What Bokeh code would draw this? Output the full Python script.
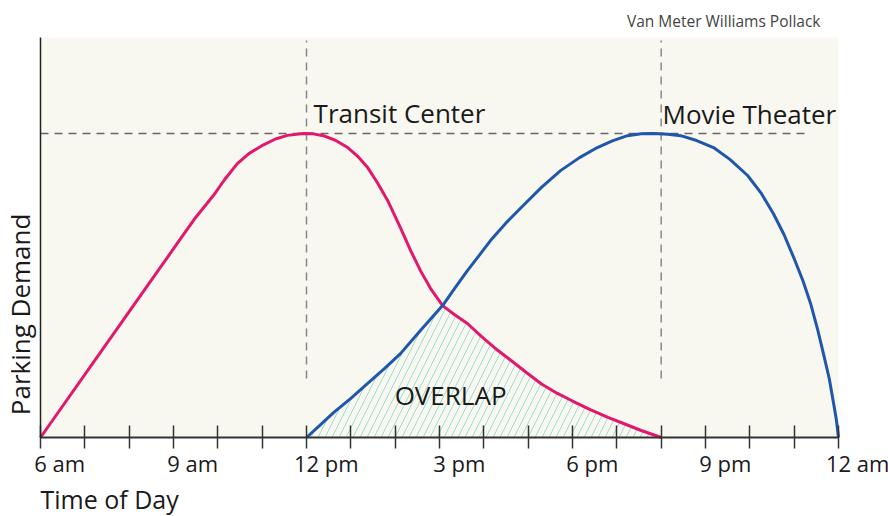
import math
import numpy as np
from bokeh.plotting import figure
from bokeh.models import Range1d, FixedTicker, Label, LabelSet, ColumnDataSource, BoxAnnotation
from bokeh.core.properties import value
from bokeh.embed import file_html
from bokeh.resources import INLINE

# ---- data (hours of day, demand as % of peak) ----
transit_hours = [6.0, 8.0, 9.16, 9.5, 9.9, 10.15, 10.44, 10.7, 11.03, 11.3, 11.57, 11.93,
                 12.15, 12.38, 12.65, 12.93, 13.15, 13.38, 13.6, 13.83, 14.12, 14.35, 14.57,
                 14.8, 15.07, 15.35, 15.63, 15.95, 16.26, 16.6, 16.96, 17.3, 17.66, 18.0,
                 18.4, 18.8, 19.15, 19.55, 20.0]
transit_demand = [0, 41.4, 65.4, 72.4, 79.6, 84.8, 90.1, 93.4, 96.3, 98.2, 99.4, 100,
                  99.9, 99.3, 97.8, 95.4, 92.6, 88.8, 83.8, 78.0, 69.0, 61.5, 54.9,
                  49.0, 43.4, 40.3, 37.5, 33.2, 29.3, 25.5, 21.4, 17.6, 14.5, 12.0,
                  9.2, 6.6, 4.6, 2.3, 0]

movie_hours = [12.0, 12.3, 12.61, 13.0, 13.38, 13.75, 14.12, 14.57, 15.07, 15.35, 15.63,
               15.9, 16.15, 16.5, 16.9, 17.3, 17.73, 18.15, 18.56, 18.9, 19.24, 19.55,
               19.83, 20.15, 20.44, 20.8, 21.18, 21.55, 21.95, 22.25, 22.53, 22.77, 22.99,
               23.2, 23.37, 23.53, 23.66, 23.79, 23.89, 23.95, 24.0]
movie_demand = [0, 4.0, 8.2, 12.9, 17.8, 22.6, 27.6, 35.2, 43.4, 49.2, 54.9,
                60.0, 64.8, 70.6, 76.5, 82.3, 87.8, 92.0, 95.4, 97.6, 99.3, 99.9,
                100, 99.8, 99.3, 97.7, 95.4, 91.5, 86.2, 80.5, 73.7, 66.8, 59.2,
                51.5, 44.1, 35.5, 27.6, 19.5, 11.2, 6.0, 0]

tick_hours = list(range(6, 25))
label_hours = [6, 9, 12, 15, 18, 21, 24]
label_texts = ["6 am", "9 am", "12 pm", "3 pm", "6 pm", "9 pm", "12 am"]
peak_hours = [12, 20]
peak_level = 100
y_top = 131.6

FONT = "Open Sans"
PINK = "#e3176c"
BLUE = "#1f58aa"
INK = "#1a1a1a"

# frame covers the whole canvas; the plot area is drawn as a box in data space
PX_H = 798 / 18.0          # pixels per hour
PX_Y = 400 / y_top         # pixels per demand unit
p = figure(width=888, height=516, output_backend="svg", toolbar_location=None,
           x_range=Range1d(6 - 40 / PX_H, 24 + 50 / PX_H),
           y_range=Range1d(0 - 79 / PX_Y, y_top + 37 / PX_Y),
           min_border=0, min_border_left=0, min_border_right=0,
           min_border_top=0, min_border_bottom=0)
p.background_fill_color = "white"
p.border_fill_color = "white"
p.outline_line_color = None
p.grid.visible = False

p.add_layout(BoxAnnotation(left=6, right=24, bottom=0, top=y_top, fill_color="#f8f7f0",
                           fill_alpha=1, line_color=None, level="underlay"))

# axes, fixed at the plot-area edges
p.xaxis.fixed_location = 0
p.xaxis.bounds = (6, 24)
p.xaxis.ticker = FixedTicker(ticks=tick_hours)
p.xaxis.major_label_overrides = {h: "" for h in tick_hours}
p.xaxis.major_tick_in = 12
p.xaxis.major_tick_out = 11
p.xaxis.major_tick_line_width = 1.5
p.xaxis.major_tick_line_color = "#333333"
p.xaxis.minor_tick_line_color = None
p.xaxis.axis_line_color = "#333333"
p.xaxis.axis_line_width = 2
p.yaxis.fixed_location = 6
p.yaxis.bounds = (0, y_top)
p.yaxis.ticker = FixedTicker(ticks=[])
p.yaxis.major_tick_line_color = None
p.yaxis.minor_tick_line_color = None
p.yaxis.axis_line_color = "#222222"
p.yaxis.axis_line_width = 1.5

# overlap region: the lower of both curves while both lots are in use
ox = np.union1d([h for h in transit_hours if 12 <= h <= 20], [h for h in movie_hours if 12 <= h <= 20])
otop = np.minimum(np.interp(ox, transit_hours, transit_demand), np.interp(ox, movie_hours, movie_demand))
p.varea(x=ox, y1=np.zeros_like(otop), y2=otop, fill_alpha=0, fill_color=None,
        hatch_pattern="/", hatch_color="#9fdcd4", hatch_scale=14, hatch_weight=1)

# reference lines
p.line(x=[6, 23.26], y=[peak_level, peak_level], line_color="#666666", line_width=1.5, line_dash="8 6")
for h in peak_hours:
    p.line(x=[h, h], y=[19.4, 130.6], line_color="#888888", line_width=1.5, line_dash="8 6")

# curves
p.line(transit_hours, transit_demand, line_color=PINK, line_width=3)
p.line(movie_hours, movie_demand, line_color=BLUE, line_width=3)

# tick labels: the number sits centred on its tick
offsets = [-6.3 * len(t.split(" ")[0]) for t in label_texts]
src = ColumnDataSource(dict(x=label_hours, y=[0] * len(label_hours), text=label_texts, xo=offsets))
p.add_layout(LabelSet(x="x", y="y", text="text", source=src, x_offset="xo", y_offset=-34,
                      text_align="left", text_baseline="alphabetic", text_font=value(FONT),
                      text_font_size="22px", text_color=INK))

def lab(x, y, text, size, **kw):
    p.add_layout(Label(x=x, y=y, text=text, text_font=FONT, text_font_size=size,
                       text_color=kw.pop("color", INK), **kw))

lab(12.16, peak_level, "Transit Center", "26px", y_offset=21, text_baseline="alphabetic")
lab(20.03, peak_level, "Movie Theater", "26px", y_offset=20, text_baseline="alphabetic")
lab(15.25, 0, "OVERLAP", "26px", y_offset=43, text_align="center", text_baseline="alphabetic")
lab(6, 0, "Time of Day", "25px", y_offset=-61, text_baseline="alphabetic")
lab(6, 40.5, "Parking Demand", "26px", x_offset=-21, angle=math.pi / 2,
    text_align="center", text_baseline="middle")
lab(23.594, y_top, "Van Meter Williams Pollack", "15.5px", y_offset=17, text_align="right",
    text_baseline="middle", color="#444444")

open("out.html", "w").write(file_html(p, INLINE))
